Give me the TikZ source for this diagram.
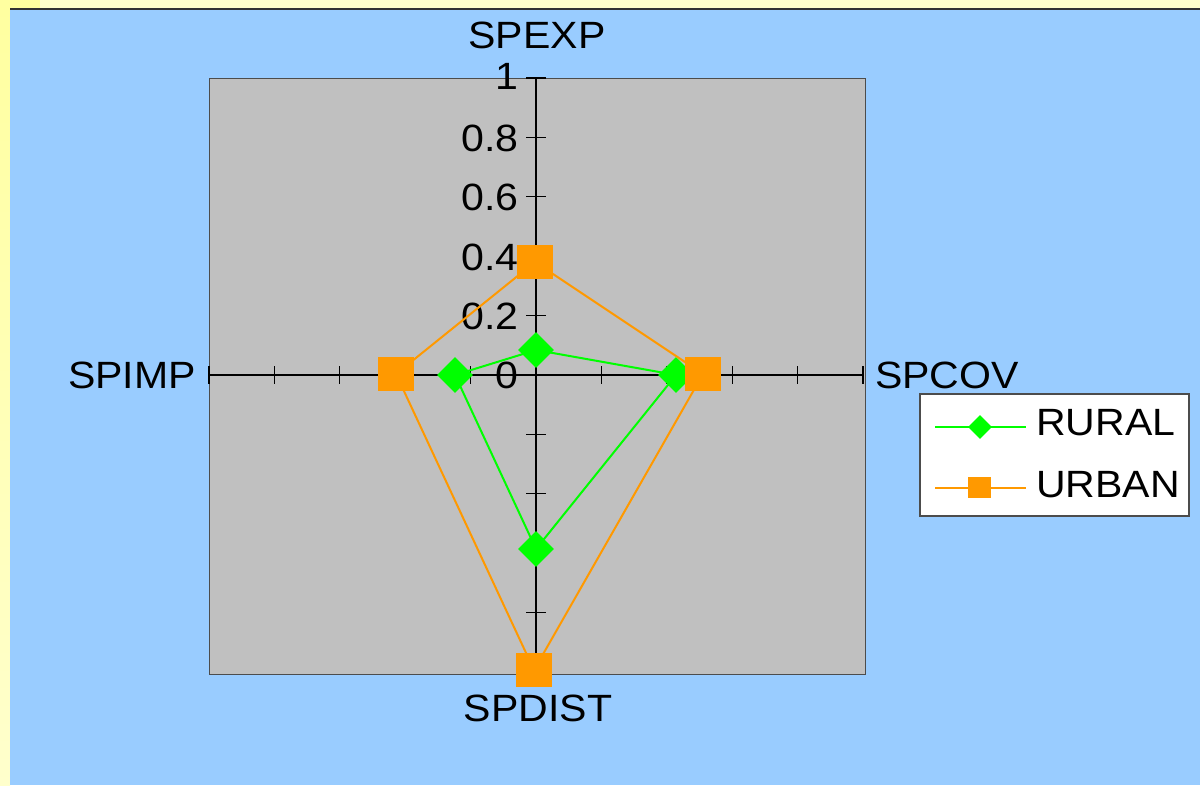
\documentclass[tikz,border=0pt]{standalone}
\usepackage{fontspec}
\setmainfont[FakeStretch=1.08]{Liberation Sans}
\usetikzlibrary{shapes.geometric}
\definecolor{bg}{HTML}{99CCFF}
\definecolor{plotgray}{HTML}{C0C0C0}
\definecolor{ruralc}{HTML}{00FF00}
\definecolor{urbanc}{HTML}{FF9900}
\definecolor{yel}{HTML}{FFFFCC}
\definecolor{yeldark}{HTML}{FFFFA0}
\definecolor{darkline}{HTML}{333333}
\begin{document}
\begin{tikzpicture}[x=1pt,y=-1pt,
  font=\fontsize{38}{40}\selectfont,
  axisline/.style={draw=black,line width=1.1pt},
  tickline/.style={draw=black,line width=1.1pt},
  ruralline/.style={draw=ruralc,line width=2pt,line join=round},
  urbanline/.style={draw=urbanc,line width=2pt,line join=round},
  rmark/.style={diamond,fill=ruralc,draw=none,inner sep=0pt,minimum width=36pt,minimum height=36pt},
  umark/.style={rectangle,fill=urbanc,draw=none,inner sep=0pt,minimum width=36pt,minimum height=34pt},
  rmarksmall/.style={diamond,fill=ruralc,draw=none,inner sep=0pt,minimum width=24pt,minimum height=24pt},
  umarksmall/.style={rectangle,fill=urbanc,draw=none,inner sep=0pt,minimum width=23pt,minimum height=21pt},
  lbl/.style={inner sep=0pt,text=black}
]
\useasboundingbox (0,0) rectangle (1200,785);
% frame background
\fill[yel] (0,0) rectangle (1200,10);
\fill[yeldark] (0,0) rectangle (40,8);
\shade[top color=yeldark,bottom color=yel] (0,8) rectangle (10,785);
\fill[bg] (10,10) rectangle (1200,785);
\draw[darkline,line width=2.5pt] (10,9) -- (1200,9);

% plot area
\filldraw[fill=plotgray,draw=black!70,line width=1pt] (209,78) rectangle (865,674);

% axes
\coordinate (axT) at (536,78);
\coordinate (axB) at (536,672);
\coordinate (axL) at (209,375);
\coordinate (axR) at (863,375);
\draw[axisline] (axT) -- (axB);
\draw[axisline] (axL) -- (axR);
\foreach \k in {-5,...,5}{
  \draw[tickline] (526,375-59.4*\k) -- (546,375-59.4*\k);
  \draw[tickline] (536+65.4*\k,366) -- (536+65.4*\k,384);
}
% scale labels
\node[lbl,anchor=base east] (v10) at (519,89) {1};
\node[lbl,anchor=base east] (v08) at (519,151) {0.8};
\node[lbl,anchor=base east] (v06) at (519,210) {0.6};
\node[lbl,anchor=base east] (v04) at (519,270) {0.4};
\node[lbl,anchor=base east] (v02) at (519,329) {0.2};
\node[lbl,anchor=base east] (v00) at (519,388) {0};

% axis names
\node[lbl,anchor=base] (nEXP) at (537,48) {SPEXP};
\node[lbl,anchor=base east] (nIMP) at (196,388) {SPIMP};
\node[lbl,anchor=base west] (nCOV) at (875,388) {SPCOV};
\node[lbl,anchor=base] (nDIST) at (538,721) {SPDIST};

% data
\coordinate (rE) at (536,350);
\coordinate (rC) at (676,375);
\coordinate (rD) at (536,549);
\coordinate (rI) at (455,375);
\coordinate (uE) at (535,262);
\coordinate (uC) at (703,374);
\coordinate (uD) at (534,670);
\coordinate (uI) at (396,374);

\draw[ruralline] (rE) -- (rC) -- (rD) -- (rI) -- cycle;
\node[rmark] (mrE) at (rE) {};
\node[rmark] (mrC) at (rC) {};
\node[rmark] (mrD) at (rD) {};
\node[rmark] (mrI) at (rI) {};
\draw[urbanline] (uE) -- (uC) -- (uD) -- (uI) -- cycle;
\node[umark] (muE) at (uE) {};
\node[umark] (muC) at (uC) {};
\node[umark] (muD) at (uD) {};
\node[umark] (muI) at (uI) {};

% legend
\node[draw=black!70,fill=white,line width=1.5pt,minimum width=269pt,minimum height=122pt,anchor=north west,inner sep=0pt] (legend) at (919,393) {};
\coordinate (lrA) at (935,427);
\coordinate (lrB) at (1026,427);
\coordinate (luA) at (935,488);
\coordinate (luB) at (1026,488);
\draw[ruralline] (lrA) -- (lrB);
\node[rmarksmall] (lrM) at (980,427) {};
\draw[urbanline] (luA) -- (luB);
\node[umarksmall] (luM) at (979,487) {};
\node[lbl,anchor=base west] (tRural) at (1036,435) {RURAL};
\node[lbl,anchor=base west] (tUrban) at (1036,497) {URBAN};
\end{tikzpicture}
\end{document}
